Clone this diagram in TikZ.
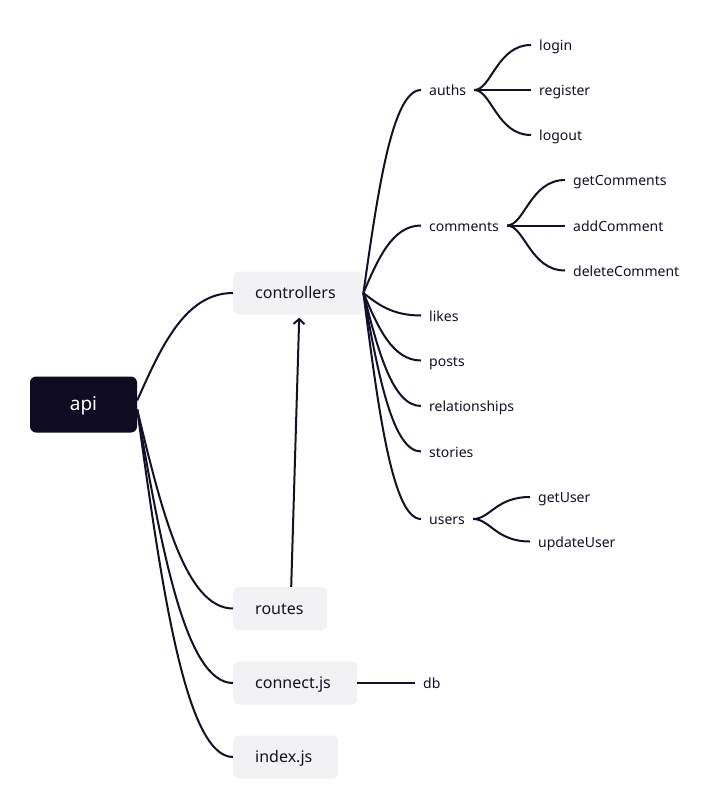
\documentclass[tikz,border=0pt]{standalone}
\usepackage{fontspec}
\setmainfont{Noto Sans}
\usetikzlibrary{calc,arrows.meta}
\definecolor{ink}{HTML}{12102A}
\definecolor{rootfill}{HTML}{0F0C22}
\definecolor{topicfill}{HTML}{F2F2F4}
\tikzset{
  root/.style={fill=rootfill, text=white, rounded corners=6pt, minimum width=107pt,
    minimum height=56pt, inner sep=0pt, text height=14pt, text depth=3pt,
    font=\fontsize{19}{22}\selectfont},
  topic/.style={fill=topicfill, rounded corners=6pt, anchor=west, minimum height=43pt,
    inner xsep=22pt, inner ysep=0pt, align=left, text height=13pt, text depth=2pt,
    font=\fontsize{16}{19}\selectfont, text=ink},
  leaf/.style={anchor=west, inner xsep=8pt, inner ysep=0pt, text height=12pt,
    text depth=1pt, font=\fontsize{14}{17}\selectfont, text=ink},
  link/.style={draw=ink, line width=2pt},
}
% branch from a parent out to a child: steep start, flat arrival
\newcommand\fanlink[2]{\draw[link] let \p1=(#1), \p2=(#2) in
  (\p1) .. controls ({\x1+0.25*(\x2-\x1)},{\y1+0.5*(\y2-\y1)})
        and ({\x1+0.5*(\x2-\x1)},\y2) .. (\p2);}
% short S-shaped branch to a leaf
\newcommand\leaflink[2]{\draw[link] let \p1=(#1), \p2=(#2) in
  (\p1) .. controls ({\x1+0.3*(\x2-\x1)},\y1)
        and ({\x1+0.4*(\x2-\x1)},\y2) .. (\p2);}
\begin{document}
\begin{tikzpicture}[x=1pt,y=-1pt]
\useasboundingbox (0,0) rectangle (720,808);
\fill[white] (0,0) rectangle (720,808);

% root and first-level topics
\node[root] (api) at (83.5,404.5) {api};
\node[topic, text width=86pt] (ctrl) at (233,293) {controllers};
\node[topic, text width=50pt] (routes) at (233,608.5) {routes};
\node[topic, text width=80pt] (connect) at (233,683) {connect.js};
\node[topic, text width=61pt] (index) at (233,757) {index.js};

% controllers children
\node[leaf] (auths) at (421,90) {auths};
\node[leaf] (comments) at (421,225.5) {comments};
\node[leaf] (likes) at (421,315.5) {likes};
\node[leaf] (posts) at (421,360.5) {posts};
\node[leaf] (rel) at (421,406) {relationships};
\node[leaf] (stories) at (421,451.5) {stories};
\node[leaf] (users) at (421,519) {users};

% leaves
\node[leaf] (login) at (531,45) {login};
\node[leaf] (register) at (531,90) {register};
\node[leaf] (logout) at (531,135) {logout};
\node[leaf] (getc) at (565,180) {getComments};
\node[leaf] (addc) at (565,225.5) {addComment};
\node[leaf] (delc) at (565,270.5) {deleteComment};
\node[leaf] (getu) at (530,497) {getUser};
\node[leaf] (updu) at (530,541.5) {updateUser};
\node[leaf] (db) at (415,683) {db};

% anchor points on the root's right edge
\coordinate (apiup) at ($(api.east)+(0,-4)$);
\coordinate (apidn) at ($(api.east)+(0,5)$);

% root branches
\fanlink{apiup}{ctrl.west}
\fanlink{apidn}{routes.west}
\fanlink{apidn}{connect.west}
\fanlink{apidn}{index.west}

% controllers fan
\foreach \c in {auths,comments,likes,posts,rel,stories,users}{
  \fanlink{ctrl.east}{\c.west}
}

% second level
\foreach \c in {login,register,logout}{\leaflink{auths.east}{\c.west}}
\foreach \c in {getc,addc,delc}{\leaflink{comments.east}{\c.west}}
\foreach \c in {getu,updu}{\leaflink{users.east}{\c.west}}
\draw[link] (connect.east) -- (db.west);

% routes depend on controllers
\draw[link, -{Straight Barb[length=5pt,width=11pt]}]
  ($(routes.north)+(11,0)$) -- ($(ctrl.south)+(1,3)$);
\end{tikzpicture}
\end{document}
